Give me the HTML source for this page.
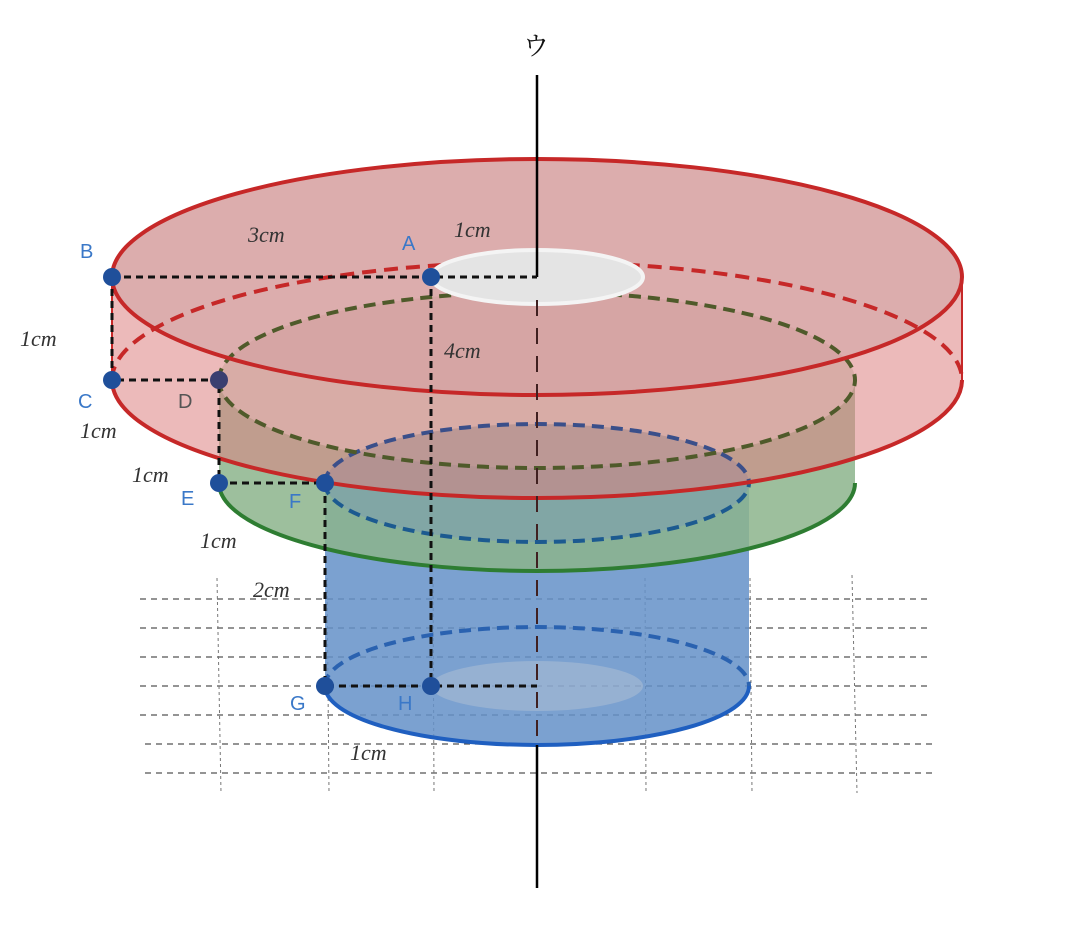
<!DOCTYPE html>
<html><head><meta charset="utf-8"><style>
html,body{margin:0;padding:0;background:#fff;}
svg text{font-family:"Liberation Serif",serif;font-style:italic;font-size:22px;fill:#333;}
svg text.p{font-family:"Liberation Sans",sans-serif;font-style:normal;font-size:20px;fill:#3a78c8;}
</style></head><body>
<svg width="1071" height="923" viewBox="0 0 1071 923" xmlns="http://www.w3.org/2000/svg">
<g stroke="#555" stroke-width="1.2" stroke-dasharray="6,5" fill="none">
<line x1="140" y1="599" x2="930" y2="599"/><line x1="140" y1="628" x2="930" y2="628"/>
<line x1="140" y1="657" x2="930" y2="657"/><line x1="140" y1="686" x2="930" y2="686"/>
<line x1="140" y1="715" x2="930" y2="715"/><line x1="145" y1="744" x2="932" y2="744"/>
<line x1="145" y1="773" x2="935" y2="773"/>
</g>
<g stroke="#777" stroke-width="1" stroke-dasharray="3,3" fill="none">
<line x1="217" y1="578" x2="221" y2="793"/><line x1="327" y1="578" x2="329" y2="793"/>
<line x1="433" y1="578" x2="434" y2="793"/><line x1="645" y1="578" x2="646" y2="793"/>
<line x1="750" y1="578" x2="752" y2="793"/><line x1="852" y1="575" x2="857" y2="793"/>
</g>
<path d="M325,483 L325,686 A212,59 0 0 0 749,686 L749,483 A212,59 0 0 1 325,483 Z" fill="rgba(100,145,200,0.85)"/>
<ellipse cx="537" cy="686" rx="106" ry="25" fill="rgba(200,205,215,0.35)"/>
<path d="M325,686 A212,59 0 0 1 749,686" fill="none" stroke="#2a62b0" stroke-width="4" stroke-dasharray="12,7"/>
<path d="M325,686 A212,59 0 0 0 749,686" fill="none" stroke="#1f5fc0" stroke-width="4"/>
<path d="M219,380 L219,483 A318,88 0 0 0 855,483 L855,380 A318,88 0 0 1 219,380 Z" fill="rgba(140,180,140,0.85)"/>
<ellipse cx="537" cy="483" rx="212" ry="59" fill="rgba(110,150,170,0.6)"/>
<path d="M219,483 A318,88 0 0 0 855,483" fill="none" stroke="#2e7d32" stroke-width="4"/>
<path d="M112,277 L112,380 A425,118 0 0 0 962,380 L962,277 A425,118 0 0 1 112,277 Z" fill="rgba(220,130,130,0.55)"/>
<ellipse cx="537" cy="380" rx="318" ry="88" fill="rgba(170,140,120,0.3)"/>
<ellipse cx="537" cy="277" rx="425" ry="118" fill="rgba(210,150,150,0.78)"/>
<path d="M325,483 A212,59 0 0 1 749,483" fill="none" stroke="#3a4f8a" stroke-width="4" stroke-dasharray="12,7"/>
<path d="M325,483 A212,59 0 0 0 749,483" fill="none" stroke="#1c5a90" stroke-width="4" stroke-dasharray="12,7"/>
<path d="M219,380 A318,88 0 0 1 855,380 A318,88 0 0 1 219,380" fill="none" stroke="#4f5a2a" stroke-width="4" stroke-dasharray="12,7"/>
<path d="M112,380 A425,118 0 0 1 962,380" fill="none" stroke="#c62828" stroke-width="4" stroke-dasharray="14,8"/>
<path d="M112,277 A425,118 0 0 0 962,277" fill="none" stroke="#c62828" stroke-width="4"/>
<path d="M112,277 A425,118 0 0 1 962,277" fill="none" stroke="#c62828" stroke-width="4"/>
<path d="M112,380 A425,118 0 0 0 962,380" fill="none" stroke="#c62828" stroke-width="4"/>
<path d="M112,277 L112,380 M962,277 L962,380" stroke="#c62828" stroke-width="2"/>
<ellipse cx="537" cy="277" rx="106" ry="27" fill="#e4e4e4" stroke="#f4f4f4" stroke-width="4"/>
<line x1="537" y1="75" x2="537" y2="277" stroke="#000" stroke-width="2.5"/>
<line x1="537" y1="300" x2="537" y2="745" stroke="#402020" stroke-width="2" stroke-dasharray="16,12"/>
<line x1="537" y1="745" x2="537" y2="888" stroke="#000" stroke-width="2.5"/>
<g stroke="#111" stroke-width="3" stroke-dasharray="7,5" fill="none">
<path d="M112,277 L537,277 M431,277 L431,686 M112,277 L112,380 L219,380 L219,483 L325,483 L325,686 L537,686"/>
</g>
<g fill="#1f4f9a">
<circle cx="112" cy="277" r="9"/><circle cx="431" cy="277" r="9"/><circle cx="112" cy="380" r="9"/>
<circle cx="219" cy="380" r="9" fill="#3a3f70"/><circle cx="219" cy="483" r="9"/><circle cx="325" cy="483" r="9"/>
<circle cx="325" cy="686" r="9"/><circle cx="431" cy="686" r="9"/>
</g>
<text class="p" x="80" y="258">B</text><text class="p" x="402" y="250">A</text>
<text class="p" x="78" y="408">C</text><text class="p" x="178" y="408" style="fill:#555">D</text>
<text class="p" x="181" y="505">E</text><text class="p" x="289" y="508">F</text>
<text class="p" x="290" y="710">G</text><text class="p" x="398" y="710">H</text>
<text x="523" y="55" style="font-style:normal;font-family:'Liberation Serif','Noto Serif CJK SC',serif;font-size:26px;fill:#111">ウ</text>
<text x="248" y="242">3cm</text><text x="454" y="237">1cm</text><text x="444" y="358">4cm</text>
<text x="20" y="346">1cm</text><text x="80" y="438">1cm</text><text x="132" y="482">1cm</text>
<text x="200" y="548">1cm</text><text x="253" y="597">2cm</text><text x="350" y="760">1cm</text>
</svg>
</body></html>
